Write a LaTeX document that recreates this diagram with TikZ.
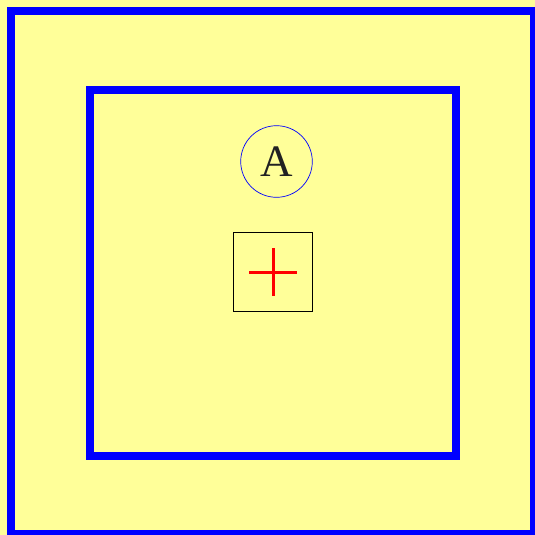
\documentclass[tikz,border=0pt]{standalone}
\usepackage{fontspec}
\setmainfont{Liberation Serif}
\usepackage{xcolor}
\usepackage{tikz}
\usetikzlibrary{positioning}
\definecolor{paleyellow}{RGB}{255,255,153}
\definecolor{inkgray}{RGB}{34,34,34}

\begin{document}
\begin{tikzpicture}[
    x=1pt, y=-1pt,
    frame/.style={draw=blue, line width=8pt},
    ring/.style={draw=blue, circle, line width=0.7pt, minimum size=71.6pt, inner sep=0pt, text=inkgray, font=\fontsize{45}{50}\selectfont},
    box/.style={draw=black, rectangle, line width=0.7pt, minimum size=79pt, inner sep=0pt},
    cross/.style={red, line width=3pt},
]
% Canvas
\clip (0, 0) rectangle (535, 535);
\fill[paleyellow] (0, 0) rectangle (535, 535);

% Frames
\draw[frame] (11, 11) rectangle (534.3, 533.5);
\draw[frame] (90, 89.7) rectangle (456.3, 456);

% Circle and box
\node[ring] (a) at (276.5, 161.5) {A};
\node[box] (b) at (273.2, 272.3) {};

% Plus sign
\draw[cross] ([xshift=-24pt]b.center) -- ([xshift=24pt]b.center);
\draw[cross] ([yshift=24pt]b.center) -- ([yshift=-24pt]b.center);

\end{tikzpicture}
\end{document}
